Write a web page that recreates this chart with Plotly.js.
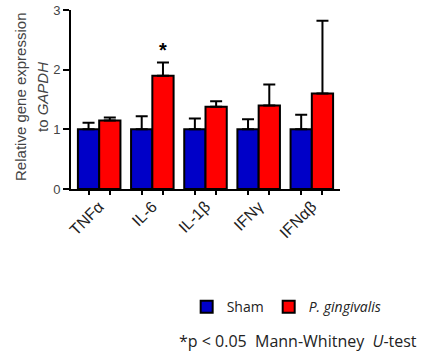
<!DOCTYPE html>
<html><head><meta charset="utf-8">
<script src="https://cdn.plot.ly/plotly-3.0.1.min.js"></script>
<style>html,body{margin:0;padding:0;background:#fff;}#chart{width:427px;height:352px;}</style>
</head><body><div id="chart"></div>
<script>
const categories = ["TNFα", "IL-6", "IL-1β", "IFNγ", "IFNαβ"];
const shamValues = [1.0, 1.0, 1.0, 1.0, 1.0];
const shamErrors = [0.11, 0.22, 0.18, 0.17, 0.245];
const pgValues = [1.15, 1.9, 1.38, 1.4, 1.6];
const pgErrors = [0.05, 0.22, 0.09, 0.35, 1.22];
const seriesNames = ["Sham", "<i>P. gingivalis</i>"];
const yTicks = [0, 1, 2, 3];
const yTitleLines = ["Relative gene expression", "to <i>GAPDH</i>"];
const sigIndex = 1;

const barLine = {color: "#000", width: 2};
const errStyle = {type: "data", symmetric: false, color: "#000", thickness: 2, width: 6};
const traces = [
  {type: "bar", x: categories, y: shamValues, name: seriesNames[0],
   marker: {color: "#0000C8", line: barLine},
   error_y: Object.assign({array: shamErrors, arrayminus: shamValues.map(() => 0)}, errStyle)},
  {type: "bar", x: categories, y: pgValues, name: seriesNames[1],
   marker: {color: "#FF0000", line: barLine},
   error_y: Object.assign({array: pgErrors, arrayminus: pgValues.map(() => 0)}, errStyle)},
  {type: "scatter", mode: "markers", xaxis: "x2", yaxis: "y",
   x: categories.flatMap((c, i) => [i - 0.2, i + 0.2]), y: categories.flatMap(() => [0, 0]),
   marker: {opacity: 0}, showlegend: false, hoverinfo: "skip"}
];

const xr = [-0.53, categories.length - 1 + 0.53];
const layout = {
  width: 427, height: 352,
  margin: {l: 71, r: 87, t: 10, b: 163},
  paper_bgcolor: "#fff", plot_bgcolor: "#fff",
  font: {family: "Liberation Sans, Arial, sans-serif", color: "#333", size: 12},
  barmode: "group", bargap: 0.2, bargroupgap: 0,
  showlegend: true,
  legend: {orientation: "h", x: 0.43, xanchor: "left", y: -0.66, yanchor: "middle",
           font: {family: "Open Sans, sans-serif", size: 14, color: "#222"},
           itemwidth: 30, traceorder: "normal"},
  xaxis: {type: "category", range: xr, showline: true, linecolor: "#000", linewidth: 2,
          ticks: "", tickangle: -45, showgrid: false, zeroline: false,
          tickfont: {family: "Liberation Sans, Arial, sans-serif", size: 16, color: "#222"}},
  xaxis2: {overlaying: "x", range: xr, side: "bottom", showline: false, showgrid: false,
           zeroline: false, showticklabels: false, ticks: "outside", ticklen: 5, tickwidth: 2,
           tickcolor: "#000", tickvals: categories.flatMap((c, i) => [i - 0.2, i + 0.2])},
  yaxis: {range: [0, 3], tickvals: yTicks, showline: true, linecolor: "#000", linewidth: 2,
          ticks: "outside", ticklen: 6, tickwidth: 2, tickcolor: "#000", showgrid: false,
          zeroline: false, tickfont: {size: 13, color: "#444"}},
  annotations: [
    {x: -0.186, y: 0.514, xref: "paper", yref: "paper", xanchor: "center", yanchor: "middle",
     textangle: -90, showarrow: false,
     text: yTitleLines[0], font: {family: "Liberation Sans, Arial, sans-serif", size: 15, color: "#444"}},
    {x: -0.104, y: 0.514, xref: "paper", yref: "paper", xanchor: "center", yanchor: "middle",
     textangle: -90, showarrow: false,
     text: yTitleLines[1], font: {family: "Liberation Sans, Arial, sans-serif", size: 15, color: "#444"}},
    {x: sigIndex + 0.2, y: pgValues[sigIndex] + pgErrors[sigIndex], xref: "x", yref: "y",
     text: "<b>*</b>", showarrow: false, yanchor: "bottom", yshift: 0,
     font: {size: 20, color: "#000"}},
    {x: 0.394, y: -0.85, xref: "paper", yref: "paper", xanchor: "left", yanchor: "middle",
     text: "*p < 0.05&nbsp;&nbsp;Mann-Whitney&nbsp;&nbsp;<i>U</i>-test", showarrow: false,
     font: {family: "Open Sans, sans-serif", size: 16, color: "#222"}}
  ]
};
Plotly.newPlot("chart", traces, layout, {displayModeBar: false, staticPlot: true});
</script></body></html>
